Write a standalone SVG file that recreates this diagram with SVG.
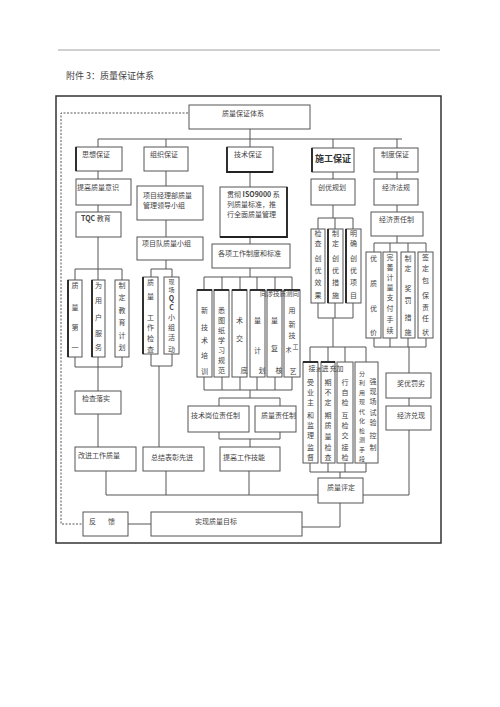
<svg xmlns="http://www.w3.org/2000/svg" width="500" height="707" viewBox="0 0 500 707">
<style>
.b{fill:#fff;stroke:#555;stroke-width:1}
.k{fill:none;stroke:#222;stroke-width:1.8}
.c{fill:none;stroke:#555;stroke-width:1}
.t{font-family:"Noto Sans CJK SC",sans-serif;font-size:7px;fill:#444}
.v{font-family:"Noto Sans CJK SC",sans-serif;font-size:7px;fill:#444;text-anchor:middle}
.s{font-size:6px}
</style>
<rect width="500" height="707" fill="#fff"/>
<line x1="58" y1="50" x2="440" y2="50" stroke="#888" stroke-width="0.8"/>
<text x="66" y="79" style="font-family:'Noto Sans CJK SC',sans-serif;font-size:9px;fill:#444">附件 3：质量保证体系</text>
<rect x="56" y="96" width="385" height="447" fill="none" stroke="#333" stroke-width="1.5"/>
<path d="M188,113H61V524H83" fill="none" stroke="#555" stroke-width="1" stroke-dasharray="2,1.5"/>

<g id="connectors" class="c">
<path d="M250,129V139M98,139H402M98,139V147M166,139V147M250,139V147M333,139V148M397,139V148"/>
<path d="M98,171V179M98,205V212M98,237V269M75,269H122M75,269V280M98,269V280M122,269V280M75,357V367M98,357V367M122,357V367M75,367H122M98,367V391M98,414V447"/>
<path d="M166,171V186M166,220V237M166,260V269M151,269H172M151,269V277M172,269V277M151,354V366M172,354V366M151,366H172M159,366V447"/>
<path d="M250,172V187M250,237V244M250,268V277M204,277H292M204,277V290M222,277V290M240,277V290M257,277V290M275,277V290M292,277V290M204,377V390M222,377V390M240,377V390M257,377V390M275,377V390M292,377V390M204,390H292M250,390V398M219,398H280M219,398V406M280,398V406M219,432V439M280,432V439M219,439H280M250,439V447"/>
<path d="M333,172V179M333,205V218M318,218H353M318,218V229M335,218V229M353,218V229M318,303V318M335,303V318M353,303V318M318,318H353M333,318V347M310,347H366M310,347V362M328,347V362M345,347V362M366,347V362M310,463V472M328,463V472M345,463V472M366,463V472M310,472H366M340,472V478M340,503V527H302"/>
<path d="M397,172V179M397,205V212M397,236V243M374,243H426M374,243V252M390,243V252M408,243V252M426,243V252M374,338V347M390,338V347M408,338V347M426,338V347M374,347H426M409,347V373M409,398V406M409,430V495H363"/>
<path d="M106,471V495M166,471V495M249,471V495M106,495H318M128,524H151"/>
</g>

<g id="n-top"><rect class="b" x="189" y="105" width="121" height="24"/><text class="t" x="222" y="116">质量保证体系</text></g>
<g id="n-sixiang"><rect class="b" x="76" y="147" width="46" height="24"/><line class="k" x1="76" y1="147" x2="76" y2="171"/><text class="t" x="82" y="157">思想保证</text></g>
<g id="n-zuzhi"><rect class="b" x="144" y="147" width="44" height="24"/><text class="t" x="150" y="157">组织保证</text></g>
<g id="n-jishu"><rect class="b" x="227" y="147" width="46" height="25"/><path class="k" d="M227,147V172H273"/><text class="t" x="234" y="157">技术保证</text></g>
<g id="n-shigong"><rect class="b" x="312" y="148" width="42" height="24"/><line class="k" x1="312" y1="148" x2="312" y2="172"/><text x="315" y="162" style="font-family:'Noto Sans CJK SC',sans-serif;font-size:9px;font-weight:bold;fill:#333">施工保证</text></g>
<g id="n-zhidu"><rect class="b" x="374" y="148" width="44" height="24"/><text class="t" x="381" y="157">制度保证</text></g>

<g id="n-tigao"><rect class="b" x="76" y="179" width="55" height="26"/><text class="t" x="77" y="190">提高质量意识</text></g>
<g id="n-tqc"><rect class="b" x="76" y="212" width="45" height="25"/><text class="t" x="81" y="221"><tspan style="font-weight:bold">TQC</tspan> 教育</text></g>
<g id="n-xmjl"><rect class="b" x="137" y="186" width="66" height="34"/><text class="t" x="143" y="197.5">项目经理部质量</text><text class="t" x="143" y="207.5">管理领导小组</text></g>
<g id="n-guanche"><rect class="b" x="220" y="187" width="67" height="50"/><path class="k" d="M287,187V237H220"/><text class="t" x="227" y="196.5">贯彻 <tspan style="font-weight:bold">ISO9000</tspan> 系</text><text class="t" x="227" y="206.5">列质量标准，推</text><text class="t" x="227" y="216.5">行全面质量管理</text></g>
<g id="n-gexiang"><rect class="b" x="212" y="244" width="78" height="24"/><text class="t" x="218" y="255.5">各项工作制度和标准</text></g>
<g id="n-chuangyou"><rect class="b" x="311" y="179" width="44" height="26"/><text class="t" x="318" y="189.5">创优规划</text></g>
<g id="n-jjfg"><rect class="b" x="374" y="179" width="44" height="26"/><text class="t" x="382" y="189.5">经济法规</text></g>
<g id="n-jjzrz"><rect class="b" x="371" y="212" width="52" height="24"/><text class="t" x="379" y="221.5">经济责任制</text></g>
<g id="n-xmd"><rect class="b" x="137" y="237" width="66" height="23"/><text class="t" x="142" y="245.5">项目队质量小组</text></g>

<g id="n-c1"><rect class="b" x="68" y="280" width="14" height="77"/><line class="k" x1="68" y1="280" x2="68" y2="357"/><text class="v"><tspan x="75" y="287.5">质</tspan><tspan x="75" y="309.5">量</tspan><tspan x="75" y="329.5">第</tspan><tspan x="75" y="349.5">一</tspan></text></g>
<g id="n-c2"><rect class="b" x="92" y="280" width="13" height="77"/><line class="k" x1="92" y1="280" x2="92" y2="357"/><text class="v"><tspan x="98.5" y="287.5">为</tspan><tspan x="98.5" y="302.5">用</tspan><tspan x="98.5" y="319.5">户</tspan><tspan x="98.5" y="335.5">服</tspan><tspan x="98.5" y="349.5">务</tspan></text></g>
<g id="n-c3"><rect class="b" x="115" y="280" width="14" height="77"/><text class="v"><tspan x="122" y="287.5">制</tspan><tspan x="122" y="299.5">定</tspan><tspan x="122" y="312.5">教</tspan><tspan x="122" y="324.5">育</tspan><tspan x="122" y="337.5">计</tspan><tspan x="122" y="349.5">划</tspan></text></g>
<g id="n-c4"><rect class="b" x="143" y="277" width="15" height="77"/><line class="k" x1="143" y1="277" x2="143" y2="354"/><text class="v"><tspan x="150.5" y="284.5">质</tspan><tspan x="150.5" y="298.5">量</tspan><tspan x="150.5" y="319.5">工</tspan><tspan x="150.5" y="330">作</tspan><tspan x="150.5" y="340.5">检</tspan><tspan x="150.5" y="352">查</tspan></text></g>
<g id="n-c5"><rect class="b" x="164" y="277" width="15" height="77"/><text class="v"><tspan class="s" x="171.5" y="283.5">现</tspan><tspan class="s" x="171.5" y="291.5">场</tspan><tspan x="171.5" y="301" style="font-weight:bold">Q</tspan><tspan x="171.5" y="310" style="font-weight:bold">C</tspan><tspan x="171.5" y="320">小</tspan><tspan x="171.5" y="329.5">组</tspan><tspan x="171.5" y="339.5">活</tspan><tspan x="171.5" y="351.5">动</tspan></text></g>

<g id="n-t1"><rect class="b" x="197" y="290" width="15" height="87"/><line class="k" x1="197" y1="290" x2="212" y2="290"/><text class="v"><tspan x="204.5" y="312.5">新</tspan><tspan x="204.5" y="329.5">技</tspan><tspan x="204.5" y="342.5">术</tspan><tspan x="204.5" y="357.5">培</tspan><tspan x="204.5" y="374">训</tspan></text></g>
<g id="n-t2"><rect class="b" x="214" y="290" width="15" height="87"/><line class="k" x1="214" y1="290" x2="229" y2="290"/><text class="v"><tspan x="221.5" y="313">悉</tspan><tspan x="221.5" y="323">图</tspan><tspan x="221.5" y="333">纸</tspan><tspan x="221.5" y="343">学</tspan><tspan x="221.5" y="353">习</tspan><tspan x="221.5" y="363">规</tspan><tspan x="221.5" y="373">范</tspan></text></g>
<g id="n-t3"><rect class="b" x="232" y="290" width="15" height="87"/><line class="k" x1="232" y1="290" x2="247" y2="290"/><text class="v"><tspan x="239.5" y="322.5">术</tspan><tspan x="239.5" y="340.5">交</tspan><tspan x="244" y="372.5">底</tspan></text></g>
<g id="n-t4"><rect class="b" x="250" y="290" width="15" height="87"/><line class="k" x1="250" y1="290" x2="265" y2="290"/><text class="v"><tspan x="257.5" y="322.5">量</tspan><tspan x="257.5" y="352.5">计</tspan><tspan x="262" y="372.5">划</tspan></text></g>
<g id="n-t5"><rect class="b" x="267" y="290" width="15" height="87"/><line class="k" x1="267" y1="290" x2="282" y2="290"/><text class="v"><tspan x="274.5" y="322.5">量</tspan><tspan x="274.5" y="350.5">复</tspan><tspan x="279" y="372.5">核</tspan></text></g>
<g id="n-t6"><rect class="b" x="284" y="290" width="16" height="87"/><line class="k" x1="284" y1="290" x2="300" y2="290"/><text class="v"><tspan x="292" y="312.5">用</tspan><tspan x="292" y="326.5">新</tspan><tspan x="292" y="337.5">技</tspan><tspan class="s" x="288.5" y="352">术</tspan><tspan class="s" x="295.5" y="349">工</tspan><tspan x="293" y="374">艺</tspan></text></g>
<text class="t" x="260" y="295.5" style="font-size:6.5px">同涉技质测同</text>

<g id="n-s1"><rect class="b" x="311" y="229" width="14" height="74"/><text class="v"><tspan x="318" y="235.5">检</tspan><tspan x="318" y="246">查</tspan><tspan x="318" y="260.5">创</tspan><tspan x="318" y="272.5">优</tspan><tspan x="318" y="284.5">效</tspan><tspan x="318" y="297.5">果</tspan></text></g>
<g id="n-s2"><rect class="b" x="328" y="229" width="15" height="74"/><line class="k" x1="328" y1="229" x2="328" y2="303"/><text class="v"><tspan x="335.5" y="235.5">制</tspan><tspan x="335.5" y="246">定</tspan><tspan x="335.5" y="260.5">创</tspan><tspan x="335.5" y="272.5">优</tspan><tspan x="335.5" y="284.5">措</tspan><tspan x="335.5" y="297.5">施</tspan></text></g>
<g id="n-s3"><rect class="b" x="346" y="229" width="15" height="74"/><line class="k" x1="346" y1="229" x2="346" y2="303"/><text class="v"><tspan x="353.5" y="235.5">明</tspan><tspan x="353.5" y="246">确</tspan><tspan x="353.5" y="260.5">创</tspan><tspan x="353.5" y="272.5">优</tspan><tspan x="353.5" y="284.5">项</tspan><tspan x="353.5" y="297.5">目</tspan></text></g>

<g id="n-z1"><rect class="b" x="366" y="252" width="15" height="86"/><text class="v"><tspan x="373.5" y="260.5">优</tspan><tspan x="373.5" y="285.5">质</tspan><tspan x="373.5" y="310.5">优</tspan><tspan x="373.5" y="334.5">价</tspan></text></g>
<g id="n-z2"><rect class="b" x="383" y="252" width="14" height="86"/><text class="v"><tspan x="390" y="260">完</tspan><tspan x="390" y="270">善</tspan><tspan x="390" y="280">计</tspan><tspan x="390" y="290">量</tspan><tspan x="390" y="300">支</tspan><tspan x="390" y="311">付</tspan><tspan x="390" y="322">手</tspan><tspan x="390" y="333">续</tspan></text></g>
<g id="n-z3"><rect class="b" x="401" y="252" width="14" height="86"/><text class="v"><tspan x="408" y="260.5">制</tspan><tspan x="408" y="270.5">定</tspan><tspan x="408" y="290.5">奖</tspan><tspan x="408" y="302.5">罚</tspan><tspan x="408" y="319.5">措</tspan><tspan x="408" y="334.5">施</tspan></text></g>
<g id="n-z4"><rect class="b" x="418" y="252" width="15" height="86"/><text class="v"><tspan x="425.5" y="259.5">签</tspan><tspan x="425.5" y="270.5">定</tspan><tspan x="425.5" y="282.5">包</tspan><tspan x="425.5" y="297.5">保</tspan><tspan x="425.5" y="309.5">责</tspan><tspan x="425.5" y="320.5">任</tspan><tspan x="425.5" y="334.5">状</tspan></text></g>

<g id="n-l1"><rect class="b" x="303" y="362" width="15" height="101"/><line class="k" x1="303" y1="362" x2="318" y2="362"/><text class="v"><tspan x="310.5" y="385">受</tspan><tspan x="310.5" y="395">业</tspan><tspan x="310.5" y="405">主</tspan><tspan x="310.5" y="417.5">和</tspan><tspan x="310.5" y="427.5">监</tspan><tspan x="310.5" y="437.5">理</tspan><tspan x="310.5" y="449.5">监</tspan><tspan x="310.5" y="459.5">督</tspan></text></g>
<g id="n-l2"><rect class="b" x="321" y="362" width="14" height="101"/><line class="k" x1="321" y1="362" x2="335" y2="362"/><text class="v"><tspan x="328" y="385">期</tspan><tspan x="328" y="395">不</tspan><tspan x="328" y="405">定</tspan><tspan x="328" y="417.5">期</tspan><tspan x="328" y="427.5">质</tspan><tspan x="328" y="439">量</tspan><tspan x="328" y="449.5">检</tspan><tspan x="328" y="459.5">查</tspan></text></g>
<g id="n-l3"><rect class="b" x="337" y="362" width="16" height="101"/><text class="v"><tspan x="345" y="384.5">行</tspan><tspan x="345" y="394.5">自</tspan><tspan x="345" y="404.5">检</tspan><tspan x="345" y="417.5">互</tspan><tspan x="345" y="427.5">检</tspan><tspan x="345" y="437.5">交</tspan><tspan x="345" y="449.5">接</tspan><tspan x="345" y="459.5">检</tspan></text></g>
<g id="n-l4"><rect class="b" x="355" y="362" width="23" height="101"/><text class="v s"><tspan x="362" y="375.5">分</tspan><tspan x="362" y="385">利</tspan><tspan x="362" y="394.5">用</tspan><tspan x="362" y="404">现</tspan><tspan x="362" y="413.5">代</tspan><tspan x="362" y="423">化</tspan><tspan x="362" y="432.5">检</tspan><tspan x="362" y="442">测</tspan><tspan x="362" y="451.5">手</tspan><tspan x="362" y="461">段</tspan></text><text class="v"><tspan x="373" y="383.5">强</tspan><tspan x="373" y="393.5">现</tspan><tspan x="373" y="403.5">场</tspan><tspan x="373" y="414.5">试</tspan><tspan x="373" y="424.5">验</tspan><tspan x="373" y="437.5">控</tspan><tspan x="373" y="449.5">制</tspan></text></g>
<text class="v"><tspan x="312" y="370.5">接</tspan><tspan x="318.5" y="370.5" style="font-size:5px">进</tspan><tspan x="325" y="370.5">进</tspan><tspan x="333" y="370.5">充</tspan><tspan x="340" y="370.5">加</tspan></text>

<g id="n-jcls"><rect class="b" x="75" y="391" width="46" height="23"/><text class="t" x="82" y="400.5">检查落实</text></g>
<g id="n-jsgw"><rect class="b" x="188" y="406" width="61" height="26"/><text class="t" x="191" y="417.5">技术岗位责任制</text></g>
<g id="n-zlzr"><rect class="b" x="255" y="406" width="41" height="26"/><text class="t" x="261" y="417.5">质量责任制</text></g>
<g id="n-gaijin"><rect class="b" x="75" y="447" width="61" height="24"/><text class="t" x="78" y="457.5">改进工作质量</text></g>
<g id="n-zongjie"><rect class="b" x="143" y="447" width="61" height="24"/><text class="t" x="151" y="459.5">总结表彰先进</text></g>
<g id="n-tgjn"><rect class="b" x="220" y="447" width="60" height="24"/><text class="t" x="223" y="459.5">提高工作技能</text></g>
<g id="n-jyfl"><rect class="b" x="386" y="373" width="45" height="25"/><text class="t" x="397" y="385.5">奖优罚劣</text></g>
<g id="n-jjdx"><rect class="b" x="386" y="406" width="45" height="24"/><text class="t" x="397" y="417.5">经济兑现</text></g>
<g id="n-zlpd"><rect class="b" x="318" y="478" width="45" height="25"/><text class="t" x="327" y="489.5">质量评定</text></g>
<g id="n-fankui"><rect class="b" x="83" y="512" width="45" height="24"/><text class="t" x="89" y="523.5">反</text><text class="t" x="108" y="523.5">馈</text></g>
<g id="n-sxmb"><rect class="b" x="151" y="512" width="151" height="24"/><text class="t" x="195" y="523.5">实现质量目标</text></g>
</svg>
